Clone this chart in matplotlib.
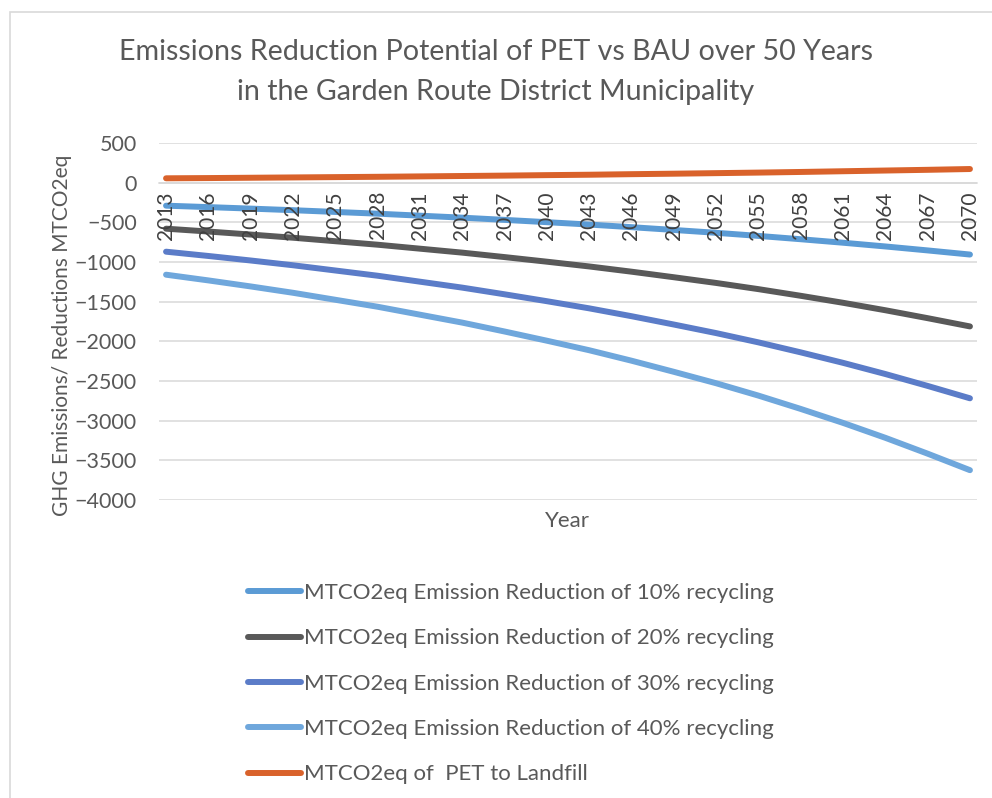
import matplotlib
matplotlib.use("Agg")
import matplotlib.pyplot as plt
from matplotlib.patches import Rectangle

plt.rcParams['font.family'] = ['Lato', 'DejaVu Sans']

# every third year is plotted (axis is one category per year, 2013-2070)
years = [2013, 2016, 2019, 2022, 2025, 2028, 2031, 2034, 2037, 2040,
         2043, 2046, 2049, 2052, 2055, 2058, 2061, 2064, 2067, 2070]
red10 = [-290, -308, -327, -347, -369, -391, -416, -441, -469, -498,
         -528, -561, -596, -632, -671, -713, -757, -804, -854, -906]
red20 = [-580, -616, -654, -694, -738, -782, -832, -882, -938, -996,
         -1056, -1122, -1192, -1264, -1342, -1426, -1514, -1608, -1708, -1812]
red30 = [-870, -924, -981, -1041, -1107, -1173, -1248, -1323, -1407, -1494,
         -1584, -1683, -1788, -1896, -2013, -2139, -2271, -2412, -2562, -2718]
red40 = [-1160, -1232, -1308, -1388, -1476, -1564, -1664, -1764, -1876, -1992,
         -2112, -2244, -2384, -2528, -2684, -2852, -3028, -3216, -3416, -3624]
landfill = [55, 58, 62, 66, 70, 74, 79, 84, 89, 95,
            100, 107, 113, 120, 127, 135, 144, 153, 162, 172]

labels = ["MTCO2eq Emission Reduction of 10% recycling",
          "MTCO2eq Emission Reduction of 20% recycling",
          "MTCO2eq Emission Reduction of 30% recycling",
          "MTCO2eq Emission Reduction of 40% recycling",
          "MTCO2eq of  PET to Landfill"]
colors = ["#5B9BD5", "#595959", "#5B7CC8", "#6FA7DC", "#D9622B"]

txt = "#595959"
grid = "#D9D9D9"

fig = plt.figure(figsize=(9.92, 7.98), dpi=100)
fig.patches.append(Rectangle((10 / 992, -0.1), 1.2, 1 - 12 / 798 + 0.1,
                             transform=fig.transFigure, fill=False,
                             edgecolor=grid, linewidth=1.2))

ax = fig.add_axes([159 / 992, 1 - 500 / 798, (977 - 159) / 992, (500 - 143) / 798])

first = years[0]
pos = [y - first for y in years]
series = [red10, red20, red30, red40, landfill]
for vals, lab, c in zip(series, labels, colors):
    ax.plot(pos, vals, color=c, lw=4.3, solid_capstyle='round', label=lab, zorder=2)

yt = list(range(-4000, 501, 500))
# gridlines under the series, year labels on top of them
for v in yt:
    ax.axhline(v, color=grid, lw=1.1, zorder=1)
ax.set_axisbelow(False)

ax.set_xlim(-0.5, years[-1] - first + 0.5)
ax.set_ylim(-4000, 500)
ax.set_yticks(yt)
ax.set_xticks(pos)
ax.set_xticklabels([str(y) for y in years])

for s in ['top', 'right', 'left']:
    ax.spines[s].set_visible(False)
ax.spines['bottom'].set_position(('data', 0))
ax.spines['bottom'].set_color(grid)
ax.spines['bottom'].set_linewidth(1.1)
ax.tick_params(axis='x', length=0, pad=6, labelsize=15, labelcolor="#404040",
               labelrotation=90)
ax.tick_params(axis='y', length=0, pad=16, labelsize=15.5, labelcolor=txt)

fig.text(0.5, 1 - 52 / 798, "Emissions Reduction Potential of PET vs BAU over 50 Years",
         ha='center', va='center', fontsize=20.6, color=txt)
fig.text(0.5, 1 - 92 / 798, "in the Garden Route District Municipality",
         ha='center', va='center', fontsize=20.6, color=txt)
fig.text(62 / 992, 1 - 335 / 798, "GHG Emissions/ Reductions MTCO2eq",
         rotation=90, ha='center', va='center', fontsize=15, color=txt)
fig.text(567 / 992, 1 - 521 / 798, "Year", ha='center', va='center',
         fontsize=16, color=txt)

ax.legend(loc='upper left', bbox_to_anchor=(248 / 992, 1 - 583 / 798),
          bbox_transform=fig.transFigure, frameon=False, fontsize=16,
          labelcolor=txt, handlelength=2.4, handletextpad=0.1,
          labelspacing=1.14, borderaxespad=0, borderpad=0)

fig.savefig("out.png", dpi=100)
